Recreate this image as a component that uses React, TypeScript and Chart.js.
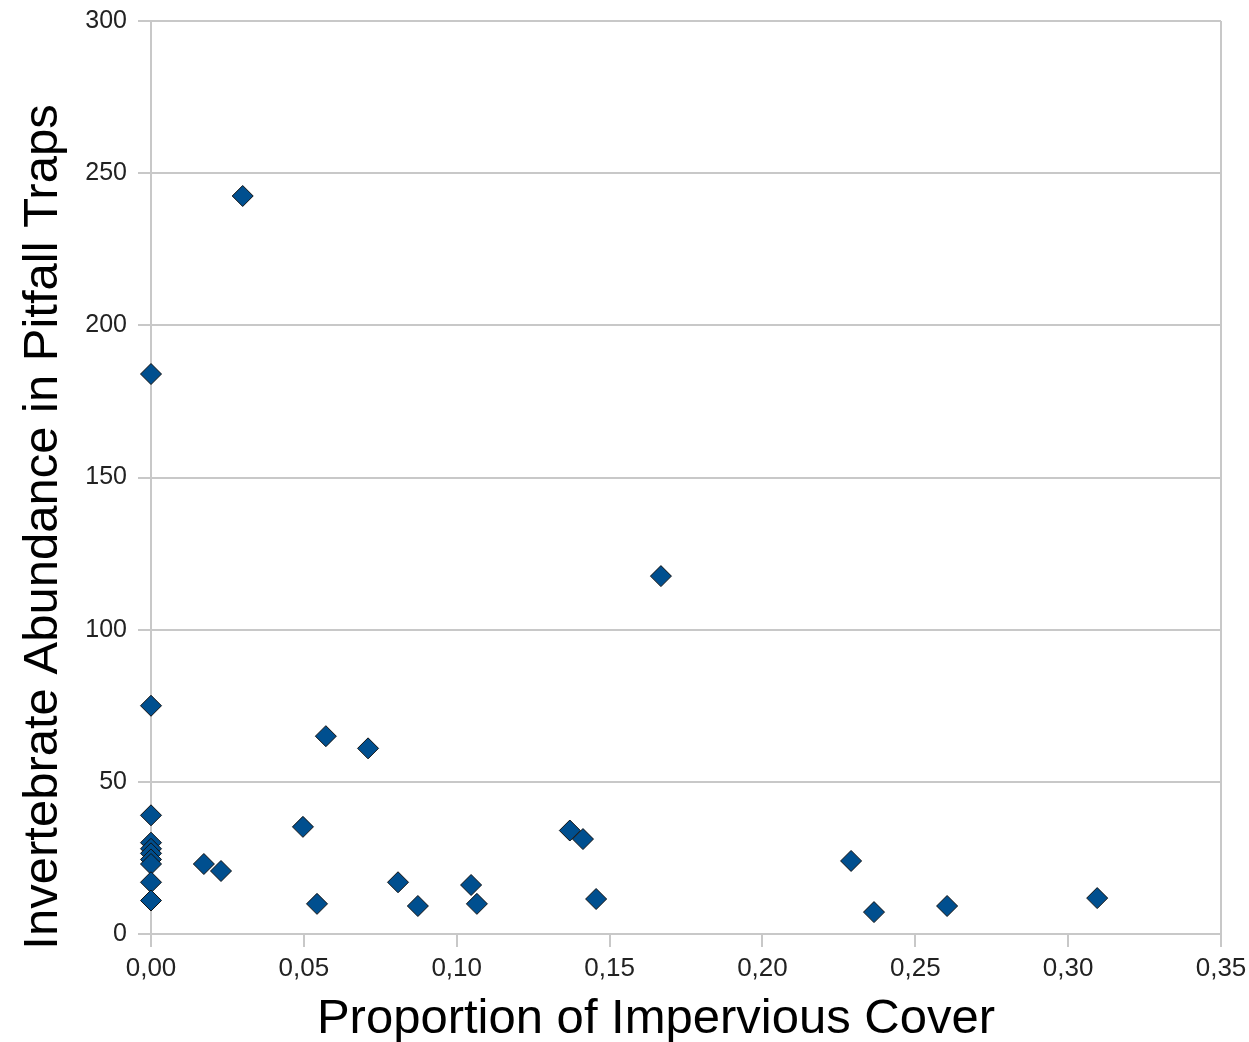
import React, { useEffect, useRef } from "react";
import { Chart, registerables } from "chart.js";

Chart.register(...registerables);

const impervious: number[] = [
  0, 0, 0, 0, 0, 0, 0, 0, 0, 0,
  0.030, 0.0173, 0.0229, 0.0497, 0.0543, 0.0572, 0.071, 0.0808, 0.0873,
  0.1047, 0.1066, 0.137, 0.1413, 0.1456, 0.1668,
  0.229, 0.2365, 0.2604, 0.3095,
];
const abundance: number[] = [
  184, 75, 39, 30, 28, 26.5, 24.5, 23, 17, 11,
  242.5, 23, 20.7, 35.2, 9.9, 65, 61, 17, 9.2,
  16.1, 9.9, 34, 31.2, 11.5, 117.6,
  24, 7.2, 9.2, 11.8,
];
const xTicks: string[] = ["0,00", "0,05", "0,10", "0,15", "0,20", "0,25", "0,30", "0,35"];
const xTitle = "Proportion of Impervious Cover";
const yTitle = "Invertebrate Abundance in Pitfall Traps";

const FONT = "'Liberation Sans', Arial, sans-serif";
const GRID = "#c8c8c8";

export default function App() {
  const ref = useRef<HTMLCanvasElement | null>(null);

  useEffect(() => {
    document.body.style.margin = "0";
    const canvas = ref.current!;
    const titlePlugin = {
      id: "axisTitles",
      afterDraw(chart: any) {
        const { ctx } = chart;
        ctx.save();
        ctx.fillStyle = "#000";
        ctx.font = `49px ${FONT}`;
        ctx.textAlign = "center";
        ctx.textBaseline = "alphabetic";
        ctx.fillText(xTitle, 656, 1033);
        ctx.translate(57, 527);
        ctx.rotate(-Math.PI / 2);
        ctx.fillText(yTitle, 0, 0);
        ctx.restore();
      },
    };
    const chart = new Chart(canvas, {
      type: "scatter",
      data: {
        datasets: [
          {
            data: impervious.map((x, i) => ({ x, y: abundance[i] })),
            pointStyle: "rectRot",
            pointRadius: 10.5,
            pointHoverRadius: 10.5,
            backgroundColor: "#004f8f",
            borderColor: "#111",
            borderWidth: 1,
            clip: false,
          },
        ],
      },
      options: {
        responsive: false,
        animation: false,
        events: [],
        layout: { padding: { top: 21, right: 28, left: 0, bottom: 0 } },
        plugins: { legend: { display: false }, tooltip: { enabled: false } },
        scales: {
          x: {
            type: "linear",
            min: 0,
            max: 0.35,
            ticks: {
              stepSize: 0.05,
              color: "#222",
              font: { family: FONT, size: 26 },
              padding: 6,
              maxRotation: 0,
              callback: (v: any, i: number) => xTicks[i] ?? "",
            },
            grid: {
              color: (c: any) => (c.index === xTicks.length - 1 ? GRID : "transparent"),
              tickColor: GRID,
              tickLength: 13,
              lineWidth: 2,
            },
            border: { color: GRID, width: 2 },
            afterFit: (s: any) => {
              s.height = 108;
              s.paddingLeft = 0;
              s.paddingRight = 0;
            },
          },
          y: {
            type: "linear",
            min: 0,
            max: 300,
            ticks: {
              stepSize: 50,
              color: "#222",
              font: { family: FONT, size: 25 },
              padding: 11,
            },
            grid: { color: GRID, tickColor: GRID, tickLength: 13, lineWidth: 2 },
            border: { color: GRID, width: 2 },
            afterFit: (s: any) => {
              s.width = 151;
              s.paddingTop = 0;
              s.paddingBottom = 0;
            },
          },
        },
      },
      plugins: [titlePlugin],
    });
    return () => chart.destroy();
  }, []);

  return (
    <div style={{ position: "absolute", left: 0, top: 0, width: 1249, height: 1042, background: "#fff" }}>
      <canvas ref={ref} width={1249} height={1042} style={{ width: 1249, height: 1042 }} />
    </div>
  );
}
